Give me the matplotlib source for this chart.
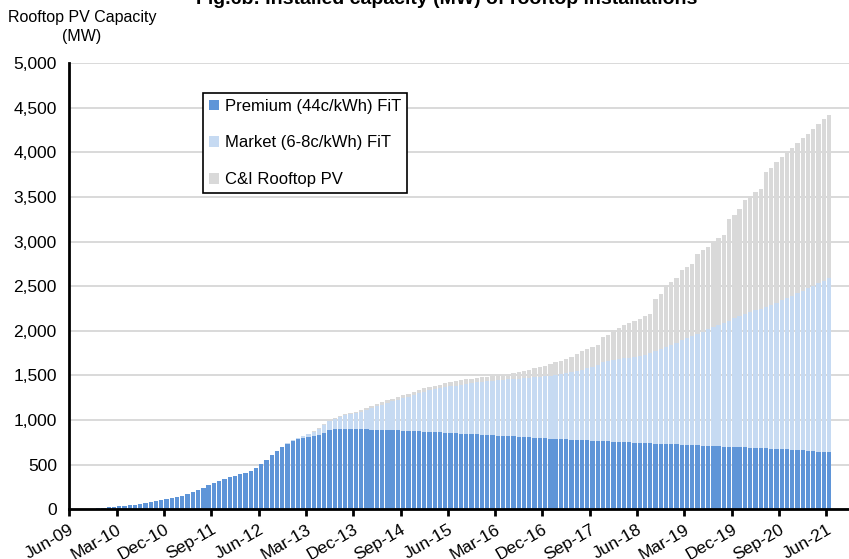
import matplotlib
matplotlib.use("Agg")
import matplotlib.pyplot as plt
import numpy as np

plt.rcParams['font.family'] = ['Liberation Sans', 'DejaVu Sans']

# monthly values, Jun-09 .. Jun-21 (MW)
premium = [
    1, 2, 3, 5, 8, 9, 12, 23, 27, 37, 39, 45, 50, 57, 67, 78, 90, 102, 115, 121,
    133, 150, 169, 191, 217, 243, 272, 297, 322, 342, 357, 375, 391, 410, 429, 465, 510, 555, 612, 657,
    698, 735, 760, 782, 800, 812, 823, 838, 857, 893, 905, 903, 902, 900, 898, 896, 895, 893, 892, 890,
    888, 886, 884, 882, 880, 877, 874, 871, 868, 865, 862, 858, 854, 851, 848, 845, 842, 839, 836, 833,
    830, 826, 823, 820, 817, 814, 811, 807, 804, 800, 797, 793, 789, 785, 782, 779, 776, 773, 771, 768,
    766, 763, 761, 758, 756, 753, 751, 748, 746, 743, 740, 737, 735, 732, 729, 726, 723, 720, 718, 716,
    713, 711, 708, 706, 703, 701, 698, 695, 693, 690, 687, 684, 682, 679, 676, 673, 670, 667, 663, 659,
    655, 651, 647, 643, 638,
]
market = [
    0, 0, 0, 0, 0, 0, 0, 0, 0, 0, 0, 0, 0, 0, 0, 0, 0, 0, 0, 0,
    0, 0, 0, 0, 0, 0, 0, 0, 0, 0, 0, 0, 0, 0, 0, 0, 0, 0, 0, 0,
    0, 13, 12, 15, 20, 30, 47, 65, 88, 97, 110, 134, 154, 167, 184, 197, 221, 241, 261, 282,
    306, 323, 344, 361, 381, 407, 425, 446, 464, 478, 493, 508, 523, 533, 548, 562, 572, 583, 593, 603,
    610, 619, 627, 635, 643, 651, 659, 668, 676, 686, 693, 704, 715, 730, 746, 761, 776, 792, 811, 830,
    854, 882, 899, 914, 927, 937, 947, 956, 966, 985, 1007, 1031, 1056, 1083, 1111, 1141, 1170, 1198, 1223, 1249,
    1276, 1306, 1337, 1362, 1387, 1414, 1440, 1465, 1492, 1520, 1545, 1564, 1583, 1611, 1638, 1667, 1692, 1723, 1755, 1787,
    1823, 1854, 1883, 1917, 1955,
]
ci = [
    0, 0, 0, 0, 0, 0, 0, 0, 0, 0, 0, 0, 0, 0, 0, 0, 0, 0, 0, 0,
    0, 0, 0, 0, 0, 0, 0, 0, 0, 0, 0, 0, 0, 0, 0, 0, 0, 0, 0, 0,
    0, 0, 2, 3, 4, 5, 7, 8, 10, 10, 10, 9, 8, 12, 11, 15, 15, 19, 23, 26,
    26, 32, 31, 34, 34, 33, 35, 37, 38, 39, 43, 44, 45, 49, 49, 48, 50, 50, 49, 49,
    52, 55, 60, 63, 67, 73, 80, 88, 98, 106, 118, 128, 141, 149, 157, 168, 183, 205, 213, 222,
    222, 280, 295, 333, 352, 378, 387, 406, 420, 442, 445, 587, 623, 696, 701, 719, 786, 799, 809, 890,
    918, 920, 951, 969, 981, 1137, 1155, 1202, 1278, 1301, 1328, 1345, 1519, 1535, 1578, 1604, 1634, 1662, 1687, 1711,
    1731, 1760, 1791, 1813, 1829,
]

tick_labels = ['Jun-09', 'Mar-10', 'Dec-10', 'Sep-11', 'Jun-12', 'Mar-13', 'Dec-13',
               'Sep-14', 'Jun-15', 'Mar-16', 'Dec-16', 'Sep-17', 'Jun-18', 'Mar-19',
               'Dec-19', 'Sep-20', 'Jun-21']

series_names = ['Premium (44c/kWh) FiT', 'Market (6-8c/kWh) FiT', 'C&I Rooftop PV']
colors = ['#5f95d8', '#c6daf2', '#d9d9d9']

fig = plt.figure(figsize=(8.49, 5.59), dpi=100)
ax = fig.add_axes([69.3 / 849, 1 - 509.3 / 559, 1 - 69.3 / 849, (509.3 - 63) / 559])

x = np.arange(len(premium)) + 0.5
bottom = np.zeros(len(premium))
for vals, name, col in zip([premium, market, ci], series_names, colors):
    ax.bar(x, vals, width=0.82, bottom=bottom, color=col, label=name, linewidth=0, zorder=2)
    bottom += np.array(vals)

ax.set_xlim(0, 148.3)
ax.set_ylim(0, 5000)
ax.set_yticks(np.arange(0, 5001, 500))
ax.set_yticklabels([f'{v:,}' for v in range(0, 5001, 500)], fontsize=12.5)
ax.yaxis.grid(True, color='#d9d9d9', linewidth=1.4, zorder=0)
ax.set_axisbelow(True)

ax.set_xticks(np.arange(0, 145, 9))
ax.set_xticklabels(tick_labels, rotation=30, ha='right', rotation_mode='anchor', fontsize=12.5)

for s in ['top', 'right']:
    ax.spines[s].set_visible(False)
ax.spines['left'].set_linewidth(2)
ax.spines['bottom'].set_linewidth(2)
ax.tick_params(axis='y', length=0, pad=9)
ax.tick_params(axis='x', length=5, width=2, pad=4)

leg = ax.legend(loc='upper left', bbox_to_anchor=(0.1715, 0.9328), borderaxespad=0,
                fontsize=12, fancybox=False, edgecolor='black', framealpha=1,
                handlelength=0.6, handleheight=0.6, handletextpad=0.35,
                labelspacing=1.3, borderpad=0.35)
leg.get_frame().set_linewidth(1.2)

fig.text(82 / 849, 1 - 10 / 559, 'Rooftop PV Capacity\n(MW)', ha='center', va='top',
         fontsize=11.5, linespacing=1.35)
fig.text(447 / 849, 1 - 4 / 559, 'Fig.6b: Installed capacity (MW) of rooftop installations',
         ha='center', va='baseline', fontsize=14, fontweight='bold')

fig.savefig('out.png', dpi=100)
